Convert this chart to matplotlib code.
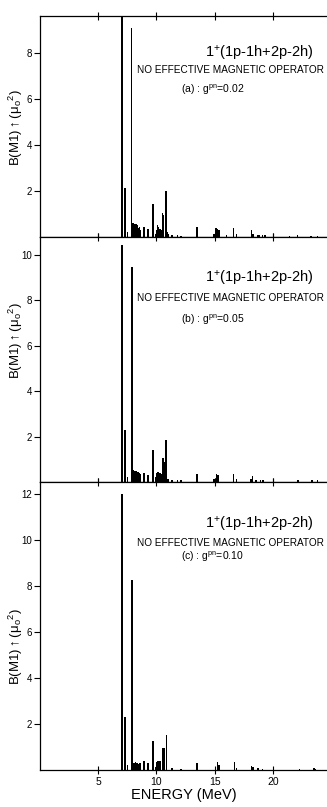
"""Three stacked M1 strength spectra, 1+ (1p-1h + 2p-2h), for three g^pn values."""
import matplotlib

matplotlib.use("Agg")
import matplotlib.pyplot as plt

# ── strengths (energy in MeV, B(M1) in mu_o^2) ──────────────────────────────
E_A = [7.05, 7.33, 7.52, 7.86, 8.00, 8.12, 8.25, 8.35, 8.45, 8.55, 8.65, 8.93,
       9.30, 9.70, 9.92, 10.00, 10.10, 10.20, 10.30, 10.40, 10.53, 10.62,
       10.82, 10.95, 11.05, 11.35, 11.80, 12.10, 13.50, 14.95, 15.12, 15.25,
       15.38, 16.00, 16.62, 16.85, 18.15, 18.28, 18.70, 18.85, 19.10, 19.30,
       21.40, 22.10, 23.25, 23.80]
B_A = [9.6, 2.15, 0.22, 9.1, 0.62, 0.58, 0.55, 0.50, 0.40, 0.45, 0.30, 0.42,
       0.33, 1.45, 0.15, 0.30, 0.50, 0.45, 0.35, 0.30, 1.05, 0.95,
       2.00, 0.20, 0.15, 0.10, 0.07, 0.06, 0.42, 0.13, 0.39, 0.35,
       0.30, 0.10, 0.38, 0.15, 0.30, 0.15, 0.10, 0.08, 0.10, 0.08,
       0.06, 0.10, 0.06, 0.06]

E_B = [7.05, 7.33, 7.52, 7.90, 8.02, 8.12, 8.25, 8.35, 8.45, 8.55, 8.65, 8.93,
       9.30, 9.70, 9.92, 10.00, 10.10, 10.20, 10.30, 10.40, 10.55, 10.65,
       10.82, 10.95, 11.05, 11.35, 11.80, 12.10, 13.50, 14.95, 15.15, 15.30,
       16.62, 16.85, 18.10, 18.25, 18.55, 18.90, 19.15, 22.15, 23.35, 23.80]
B_B = [10.4, 2.30, 0.20, 9.45, 0.53, 0.50, 0.48, 0.45, 0.42, 0.40, 0.35, 0.40,
       0.31, 1.39, 0.20, 0.40, 0.44, 0.44, 0.40, 0.35, 1.04, 0.90,
       1.83, 0.15, 0.12, 0.10, 0.07, 0.07, 0.34, 0.15, 0.37, 0.30,
       0.33, 0.12, 0.15, 0.25, 0.10, 0.10, 0.08, 0.08, 0.08, 0.08]

E_C = [7.05, 7.33, 7.52, 7.90, 8.10, 8.20, 8.30, 8.40, 8.50, 8.60, 8.93,
       9.30, 9.70, 9.92, 10.05, 10.15, 10.25, 10.35, 10.55, 10.65,
       10.85, 11.35, 12.10, 13.50, 15.22, 15.38, 16.68, 16.85, 18.15, 18.28,
       18.70, 19.10, 22.25, 23.50, 23.65]
B_C = [12.0, 2.30, 0.20, 8.26, 0.32, 0.35, 0.30, 0.32, 0.28, 0.30, 0.38,
       0.32, 1.26, 0.15, 0.35, 0.40, 0.40, 0.38, 0.97, 0.95,
       1.52, 0.08, 0.06, 0.32, 0.35, 0.20, 0.33, 0.10, 0.16, 0.12,
       0.08, 0.06, 0.06, 0.07, 0.05]

YMAX = [9.6, 10.77, 12.52]
Y_TICKS = [[2, 4, 6, 8], [2, 4, 6, 8, 10], [2, 4, 6, 8, 10, 12]]
TAGS = ["(a) : g$^{pn}$=0.02", "(b) : g$^{pn}$=0.05", "(c) : g$^{pn}$=0.10"]
X_TICKS = [5, 10, 15, 20]
HEADER = "1$^{+}$(1p-1h+2p-2h)"
SUBHEAD = "NO EFFECTIVE MAGNETIC OPERATOR"
YLABEL = "B(M1)$\\uparrow$($\\mu_{o}{}^{2}$)"
XLABEL = "ENERGY (MeV)"

plt.rcParams.update({
    "font.family": ["Liberation Sans", "DejaVu Sans"],
    "mathtext.default": "regular",
    "axes.linewidth": 0.9,
})

W, H = 327, 807
fig = plt.figure(figsize=(W / 100, H / 100), dpi=100)

# pixel layout of the reference: panel (top, bottom), text rows, label centre
BOXES = [(16, 237), (237, 482), (482, 770)]
TEXT_Y = [(53, 70, 90), (278, 298, 320), (525, 543, 557)]
YLAB_Y = [128, 341, 647]
X0, X1 = 39.7, 328.0
XMAX = (X1 - X0) / 11.67


def fig_xy(px, py):
    return px / W, 1 - py / H


data = [(E_A, B_A), (E_B, B_B), (E_C, B_C)]
for i, ((E, B), (top, bot)) in enumerate(zip(data, BOXES)):
    ax = fig.add_axes([X0 / W, 1 - bot / H, (X1 - X0) / W, (bot - top) / H])
    ax.bar(E, B, width=0.13, color="black", linewidth=0)
    ax.set_xlim(0, XMAX)
    ax.set_ylim(0, YMAX[i])
    ax.set_xticks(X_TICKS)
    ax.set_yticks(Y_TICKS[i])
    ax.spines["right"].set_visible(False)
    ax.tick_params(axis="y", direction="out", length=4, width=0.8,
                   labelsize=7, pad=1.5, right=True)
    ax.tick_params(axis="x", direction="inout", length=6, width=0.8,
                   labelsize=7.5, pad=2, top=True)
    if i < 2:
        ax.tick_params(axis="x", labelbottom=False)
    ax.set_ylabel(YLABEL, fontsize=9.5)
    ax.yaxis.set_label_coords((25 - X0) / (X1 - X0),
                              (bot - YLAB_Y[i]) / (bot - top))

    y1, y2, y3 = TEXT_Y[i]
    fig.text(*fig_xy(259, y1), HEADER, fontsize=10.5, ha="center", va="center")
    fig.text(*fig_xy(137, y2), SUBHEAD, fontsize=7.2, ha="left", va="center")
    fig.text(*fig_xy(181, y3), TAGS[i], fontsize=7.5, ha="left", va="center")

ax.set_xlabel(XLABEL, fontsize=10.5, labelpad=1)

fig.savefig("out.png", dpi=100)
